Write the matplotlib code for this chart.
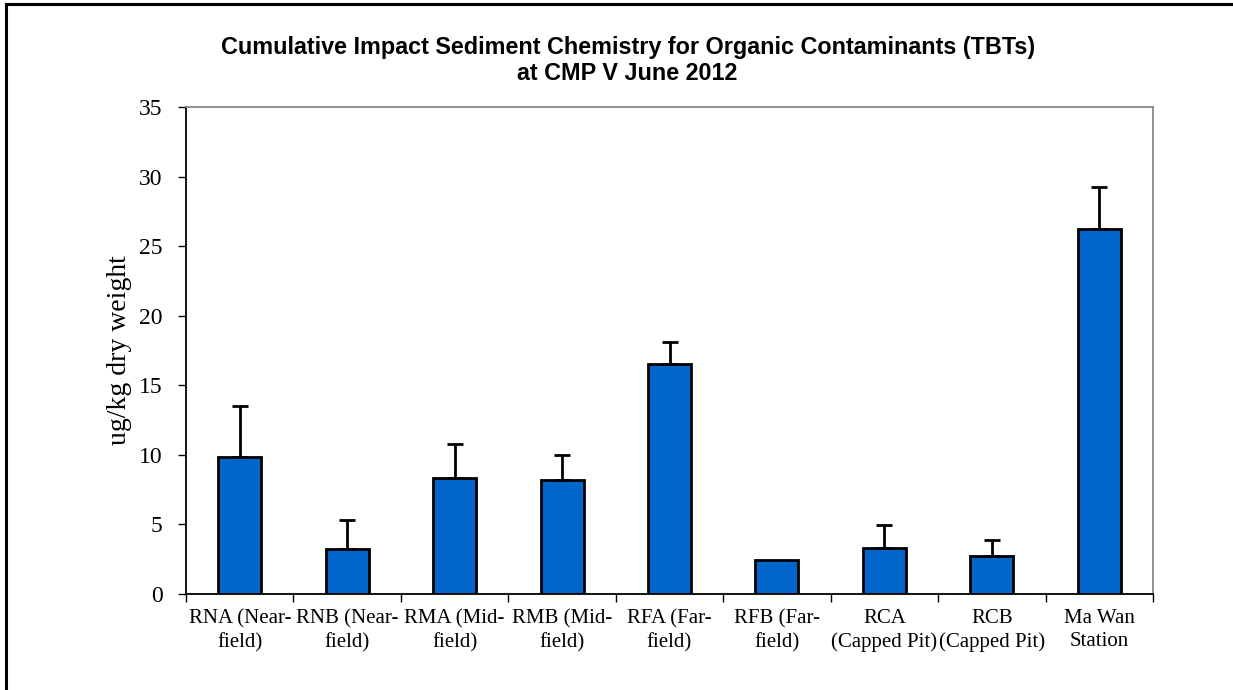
import matplotlib
matplotlib.use('Agg')
import matplotlib.pyplot as plt
from matplotlib.lines import Line2D
import numpy as np

stations = ['RNA (Near-\nfield)', 'RNB (Near-\nfield)', 'RMA (Mid-\nfield)', 'RMB (Mid-\nfield)',
            'RFA (Far-\nfield)', 'RFB (Far-\nfield)', 'RCA\n(Capped Pit)', 'RCB\n(Capped Pit)',
            'Ma Wan\nStation']
tbt = [9.87, 3.23, 8.32, 8.2, 16.5, 2.44, 3.33, 2.76, 26.24]
tbt_err = [3.67, 2.11, 2.46, 1.77, 1.6, 0.0, 1.61, 1.12, 3.02]

serif = 'Liberation Serif'
bar_color = '#0066CC'

fig = plt.figure(figsize=(12.33, 6.9), dpi=100)
ax = fig.add_axes([0.1509, 0.1391, 0.7842, 0.7058])

x = np.arange(len(stations))
ax.bar(x, tbt, width=0.4, color=bar_color, edgecolor='black', linewidth=2.0, zorder=2)
# upper error bars only, skip the zero one
for xi, v, e in zip(x, tbt, tbt_err):
    if e > 0:
        ax.errorbar(xi, v, yerr=[[0], [e]], fmt='none', ecolor='black',
                    elinewidth=2.0, capsize=6, capthick=2.0, zorder=3)

ax.set_xlim(-0.5, len(stations) - 0.5)
ax.set_ylim(0, 35)
ax.set_yticks(range(0, 36, 5))
ax.set_xticks(x)
ax.set_xticklabels(stations, fontfamily=serif, fontsize=15, linespacing=1.3)
ax.set_xticks(np.arange(-0.5, len(stations), 1), minor=True)
ax.tick_params(axis='x', which='major', length=0, pad=11)
ax.tick_params(axis='x', which='minor', length=6, width=1, direction='out')
ax.tick_params(axis='y', length=6, width=1, direction='out', labelsize=17, pad=11)
for lab in ax.get_yticklabels():
    lab.set_fontfamily(serif)

ax.spines['left'].set_color('black')
ax.spines['bottom'].set_color('black')
ax.spines['top'].set_color('#888888')
ax.spines['right'].set_color('#888888')
for s in ax.spines.values():
    s.set_linewidth(1.3)

ax.set_ylabel('ug/kg dry weight', fontfamily=serif, fontsize=20, labelpad=5)

fig.text(0.509, 0.912, 'Cumulative Impact Sediment Chemistry for Organic Contaminants (TBTs)\nat CMP V June 2012',
         ha='center', va='center', fontfamily='Liberation Sans', fontweight='bold', fontsize=16.8,
         linespacing=1.18)

# outer frame (left and top only)
fig.add_artist(Line2D([0.0045, 0.0045], [0, 0.9945], color='black', linewidth=2.2, transform=fig.transFigure))
fig.add_artist(Line2D([0.0045, 1.0], [0.9945, 0.9945], color='black', linewidth=2.2, transform=fig.transFigure))

fig.savefig('out.png', dpi=100)
